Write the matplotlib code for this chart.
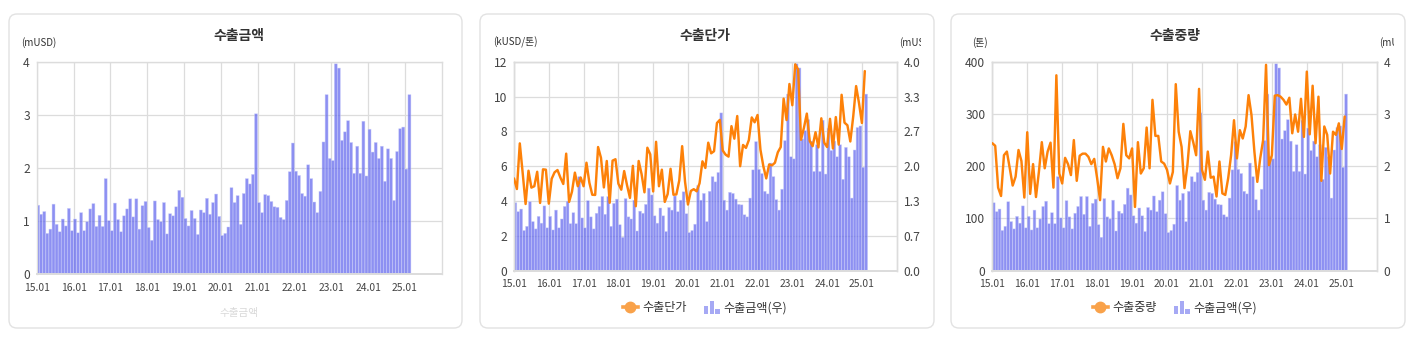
import matplotlib
matplotlib.use("Agg")
import matplotlib.pyplot as plt
import numpy as np
from matplotlib.patches import FancyBboxPatch, Rectangle
from matplotlib.legend_handler import HandlerBase
from matplotlib.lines import Line2D
from matplotlib.transforms import IdentityTransform, Bbox, TransformedBbox

plt.rcParams['font.family'] = ['Noto Sans CJK KR', 'DejaVu Sans']

# ---- data: monthly series, 2015.01 - 2025.02 ----
export_amount = [  # mUSD
    1.30, 1.13, 1.18, 0.77, 0.85, 1.32, 0.94, 0.80, 1.04, 0.91, 1.24, 0.82,
    1.04, 0.78, 1.16, 0.82, 0.99, 1.23, 1.33, 0.90, 1.11, 0.90, 1.80, 1.01,
    0.82, 1.34, 1.03, 0.80, 1.10, 1.23, 1.42, 1.08, 1.42, 0.85, 1.29, 1.37,
    0.88, 0.64, 1.38, 1.03, 0.99, 1.35, 0.76, 1.14, 1.10, 1.27, 1.58, 1.45,
    1.05, 0.91, 1.20, 1.05, 0.75, 1.21, 1.16, 1.43, 1.13, 1.35, 1.51, 1.09,
    0.73, 0.77, 0.89, 1.63, 1.35, 1.48, 0.94, 1.52, 1.80, 1.70, 1.88, 3.02,
    1.35, 1.16, 1.50, 1.48, 1.37, 1.27, 1.26, 1.07, 1.03, 1.39, 1.93, 2.47,
    1.94, 1.86, 1.52, 1.47, 2.06, 1.80, 1.36, 1.16, 1.56, 2.49, 3.38, 2.18,
    2.14, 3.96, 3.88, 2.52, 2.68, 2.89, 2.48, 1.90, 2.41, 1.90, 2.88, 1.85,
    2.73, 2.30, 2.48, 2.18, 2.41, 1.75, 2.36, 2.18, 1.39, 2.31, 2.74, 2.77,
    1.98, 3.38,
]
unit_price = [  # kUSD/톤
    5.30, 4.69, 7.31, 5.60, 3.83, 5.74, 4.77, 4.85, 5.68, 3.89, 5.82, 5.80,
    3.85, 5.28, 5.65, 5.78, 5.35, 4.98, 6.72, 3.95, 4.54, 5.63, 4.85, 5.35,
    4.85, 6.20, 5.05, 4.36, 4.35, 7.10, 6.48, 4.78, 6.30, 3.90, 6.32, 6.40,
    5.00, 4.65, 5.72, 4.90, 4.18, 6.02, 3.70, 6.30, 5.55, 4.50, 7.06, 6.68,
    4.55, 7.40, 4.85, 5.80, 3.95, 4.40, 5.85, 4.36, 4.38, 5.18, 7.15, 5.10,
    3.80, 4.58, 4.68, 4.56, 5.02, 6.28, 5.90, 7.35, 6.74, 6.86, 8.48, 8.66,
    6.90, 6.66, 6.55, 8.30, 7.58, 8.88, 6.00, 7.22, 7.05, 7.50, 8.80, 8.52,
    8.94, 6.95, 6.00, 5.30, 6.10, 6.05, 6.20, 6.80, 7.10, 9.88, 8.65, 10.72,
    9.50, 11.85, 11.55, 7.52, 8.20, 9.02, 7.45, 7.15, 7.95, 7.08, 8.75, 7.35,
    7.10, 8.72, 7.02, 8.82, 7.24, 10.10, 8.50, 8.35, 7.42, 8.85, 10.60, 9.62,
    8.48, 11.46,
]
export_weight = [  # 톤
    244, 239, 159, 143, 221, 228, 196, 163, 180, 231, 210, 140,
    265, 147, 204, 141, 189, 246, 196, 228, 245, 159, 374, 186,
    167, 216, 204, 183, 250, 172, 220, 224, 224, 218, 204, 214,
    177, 135, 237, 209, 234, 221, 204, 177, 196, 281, 221, 215,
    234, 122, 246, 186, 196, 274, 196, 327, 258, 258, 209, 205,
    193, 167, 189, 357, 266, 237, 158, 202, 267, 246, 221, 348,
    193, 174, 228, 178, 180, 142, 209, 148, 145, 177, 221, 288,
    215, 269, 253, 276, 336, 298, 228, 170, 215, 250, 394, 202,
    221, 335, 336, 333, 327, 318, 331, 263, 299, 266, 329, 256,
    381, 261, 354, 244, 333, 172, 276, 260, 186, 266, 260, 282,
    233, 295,
]
year_labels = ['15.01', '16.01', '17.01', '18.01', '19.01', '20.01',
               '21.01', '22.01', '23.01', '24.01', '25.01']

W, H = 1417, 340
BAR_FACE = (0.38, 0.40, 0.93, 0.72)
BAR_EDGE = (0.80, 0.81, 0.98, 0.9)
LINE_C = '#fd8109'
GRID_C = '#dcdcdc'
TEXT_C = '#333333'
TICK_C = '#444444'

fig = plt.figure(figsize=(W / 100, H / 100), dpi=100)
fig.patch.set_facecolor('white')

x = np.arange(len(export_amount))
n_slots = 132


def add_px_axes(left, top, right, bottom):
    return fig.add_axes([left / W, 1 - bottom / H, (right - left) / W, (bottom - top) / H])


def card(left, top, right, bottom):
    box = FancyBboxPatch((left, H - bottom), right - left, bottom - top,
                         boxstyle="round,pad=0,rounding_size=8",
                         facecolor='white', edgecolor='#e2e2e2', linewidth=1.0,
                         transform=IdentityTransform(), zorder=-10)
    fig.add_artist(box)


def base_style(ax):
    for sp in ax.spines.values():
        sp.set_color(GRID_C)
        sp.set_linewidth(1.0)
    ax.spines['bottom'].set_linewidth(1.4)
    ax.tick_params(length=0, colors=TICK_C, labelsize=8.7)
    ax.set_xlim(0, n_slots)
    ax.set_xticks(np.arange(0, 121, 12))
    ax.set_xticklabels(year_labels, fontsize=7.4, color=TICK_C)
    ax.tick_params(axis='x', pad=6)
    ax.tick_params(axis='y', pad=5)


def draw_bars(ax):
    bars = ax.bar(x, export_amount, width=0.97, align='edge', color=BAR_FACE,
                  edgecolor=BAR_EDGE, linewidth=0.35, zorder=2)
    for b in bars:
        b.set_snap(False)
    ax.set_axisbelow(True)
    ax.grid(True, color=GRID_C, linewidth=0.9)


def title(cx, text):
    fig.text(cx / W, 1 - 36 / H, text, ha='center', va='center',
             fontsize=10, fontweight='bold', color=TEXT_C)


def unit_label(xp, text, clip_right=None):
    t = fig.text(xp / W, 1 - 42.5 / H, text, ha='left', va='center',
                 fontsize=7.1, color=TEXT_C)
    if clip_right is not None:
        bb = TransformedBbox(Bbox.from_extents(0, 0, clip_right / W, 1), fig.transFigure)
        t.set_clip_box(bb)
        t.set_clip_on(True)
    return t


class BarIcon:
    pass


class BarIconHandler(HandlerBase):
    def create_artists(self, legend, orig_handle, xdescent, ydescent,
                       width, height, fontsize, trans):
        fracs = [0.62, 1.0, 0.38]
        gap = width * 0.1
        bw = (width - 2 * gap) / 3
        arts = []
        y0 = -ydescent - height * 0.12
        for k, f in enumerate(fracs):
            r = Rectangle((-xdescent + k * (bw + gap), y0), bw, height * 1.2 * f,
                          facecolor='#a6a9f4', edgecolor='none', transform=trans)
            arts.append(r)
        return arts


def legend(cx, line_label):
    handles = [Line2D([], [], color='#f9a24a', lw=2.6, marker='o', ms=7.5),
               BarIcon()]
    fig.legend(handles, [line_label, '수출금액(우)'], loc='center',
               bbox_to_anchor=(cx / W, 1 - 308 / H), ncol=2, frameon=False,
               fontsize=8.7, handlelength=1.3, handleheight=1.0,
               handletextpad=0.35, columnspacing=1.4, labelcolor=TEXT_C,
               handler_map={BarIcon: BarIconHandler()})


# ---- cards ----
card(9, 14, 462, 328)
card(480, 14, 934, 328)
card(951, 14, 1405, 328)

# ---- panel 1: 수출금액 ----
ax1 = add_px_axes(36.7, 61.7, 441.7, 274.3)
draw_bars(ax1)
base_style(ax1)
ax1.set_ylim(0, 4)
ax1.set_yticks([0, 1, 2, 3, 4])
title(239, '수출금액')
unit_label(21.5, '(mUSD)')
fig.text(239 / W, 1 - 313 / H, '수출금액', ha='center', va='center',
         fontsize=7.6, color='#d9d9d9')


def combo_panel(left, right, line_values, ymax, yticks, line_label, cx,
                left_unit, left_unit_x, right_unit_x, clip_right, right_ticks, right_fmt):
    axb = add_px_axes(left, 61.7, right, 270.7)
    draw_bars(axb)
    axb.set_ylim(0, 4)
    axb.set_yticks(right_ticks)
    axb.set_yticklabels([right_fmt.format(v) for v in right_ticks])
    axl = axb.twinx()
    axl.plot(x, line_values, color=LINE_C, lw=1.75, zorder=3,
             solid_joinstyle='round', solid_capstyle='round')
    axl.set_ylim(0, ymax)
    axl.set_yticks(yticks)
    axb.yaxis.tick_right()
    axl.yaxis.tick_left()
    base_style(axb)
    for sp in axl.spines.values():
        sp.set_color(GRID_C)
        sp.set_linewidth(1.0)
    axl.spines['bottom'].set_linewidth(1.4)
    axl.tick_params(length=0, colors=TICK_C, labelsize=8.7, pad=5)
    title(cx, line_label)
    unit_label(left_unit_x, left_unit)
    unit_label(right_unit_x, '(mUSD)', clip_right=clip_right)
    legend(cx, line_label)


combo_panel(514, 896.7, unit_price, 12, [0, 2, 4, 6, 8, 10, 12], '수출단가', 705,
            '(kUSD/톤)', 493, 899, 921, list(np.linspace(0, 4, 7)), '{:.1f}')
combo_panel(992.3, 1376.7, export_weight, 400, [0, 100, 200, 300, 400], '수출중량', 1175,
            '(톤)', 972, 1379, 1394, [0, 1, 2, 3, 4], '{:.0f}')

fig.savefig('out.png', dpi=100)
